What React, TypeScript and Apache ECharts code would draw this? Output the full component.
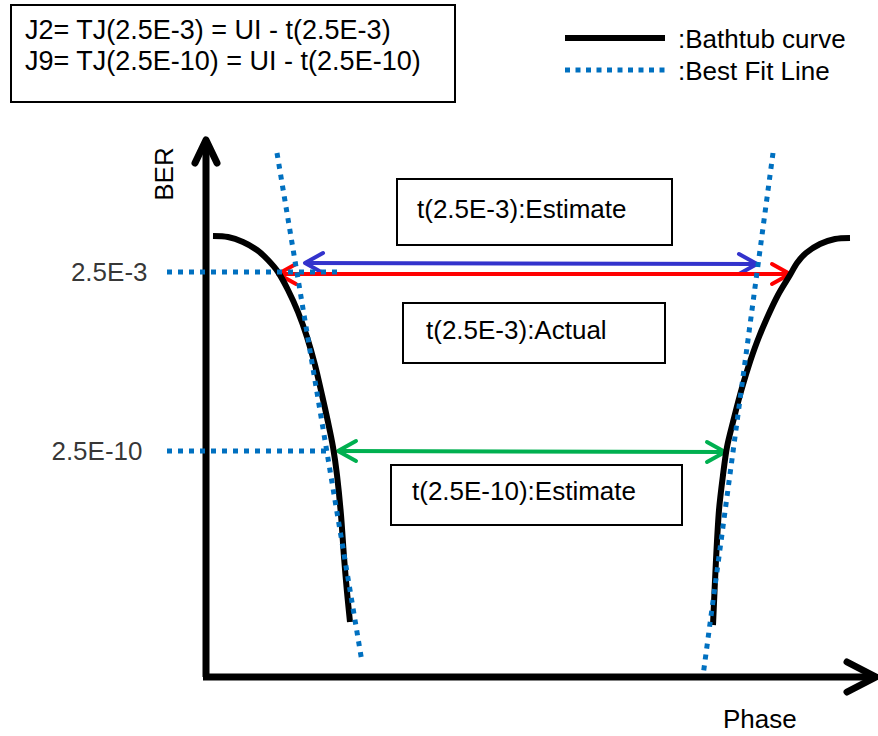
import React, { useEffect, useRef } from "react";
import * as echarts from "echarts";

// Coordinate space: x = phase units from the axis corner, y = BER level units above the phase axis
const xRange = [-206, 672];
const yRange = [-59, 677];

// Axes (drawn as polylines with open arrowheads)
const phaseAxis = [[-3, 0], [670, 0]];
const phaseArrowTip = [670, 0];
const berAxis = [[0, 0], [0, 537]];
const berArrowTip = [0, 537];

// Bathtub curve (left and right halves)
const bathtubLeft = [
  [7, 441], [22, 440], [37, 435], [51, 427], [62, 417], [72, 405], [82, 387],
  [92, 365], [101, 340], [109, 312], [116, 282], [122, 255], [127, 230],
  [131, 202], [135, 162], [138, 120], [141, 85], [144, 55],
];
const bathtubRight = [
  [644, 439], [629, 438], [614, 433], [600, 424], [591, 414], [584, 402],
  [572, 382], [561, 359], [551, 335], [542, 309], [534, 282], [527, 255],
  [521, 230], [517, 202], [513, 167], [510, 117], [507, 52],
];

// Best fit lines
const bestFitLeft = [[71, 524], [156, 15]];
const bestFitRight = [[567, 524], [497, 1]];

// BER levels
const levelNames = ["2.5E-3", "2.5E-10"];
const levelValues = [405, 226];
const levelLineEnds = [131, 121];
const levelLineStart = -39;
const levelLabelX = [-58, -63];

// Arrows: [leftTip, rightTip]
const arrowEstimate3 = [[99, 414], [551, 413]];
const arrowActual3 = [[72, 403], [584, 403]];
const arrowEstimate10 = [[132, 226], [519, 225]];

const FONT = "'Liberation Sans', Arial, sans-serif";

function chevron(tip: number[], dir: number, len: number, half: number) {
  return [
    [tip[0] + dir * len, tip[1] + half],
    [tip[0], tip[1]],
    [tip[0] + dir * len, tip[1] - half],
  ];
}

function chevronUp(tip: number[], len: number, half: number) {
  return [
    [tip[0] - half, tip[1] - len],
    [tip[0], tip[1]],
    [tip[0] + half, tip[1] - len],
  ];
}

function lineSeries(data: number[][], color: string, width: number, extra: any = {}) {
  return {
    type: "line",
    data,
    showSymbol: false,
    symbol: "none",
    silent: true,
    lineStyle: { color, width, cap: "round", join: "round", ...(extra.lineStyle || {}) },
    smooth: extra.smooth || false,
    z: extra.z || 2,
  };
}

function arrowSeries(pts: number[][], color: string) {
  return [
    lineSeries(pts, color, 4, { lineStyle: { cap: "butt" } }),
    lineSeries(chevron(pts[0], 1, 18, 10), color, 4),
    lineSeries(chevron(pts[1], -1, 18, 10), color, 4),
  ];
}

export default function App() {
  const ref = useRef<HTMLDivElement>(null);
  useEffect(() => {
    if (!ref.current) return;
    document.body.style.margin = "0";
    const chart = echarts.init(ref.current, undefined, { renderer: "svg" });
    const dotted = { type: [5, 6], cap: "butt" };
    const series: any[] = [
      // axes
      lineSeries(berAxis, "#000", 7, { lineStyle: { cap: "butt" } }),
      lineSeries(phaseAxis, "#000", 7, { lineStyle: { cap: "butt" } }),
      lineSeries(chevronUp(berArrowTip, 23, 11), "#000", 7),
      lineSeries(chevron(phaseArrowTip, -1, 29, 15), "#000", 7),
      // arrows
      ...arrowSeries(arrowEstimate3, "#3333CC"),
      ...arrowSeries(arrowActual3, "#FF0000"),
      ...arrowSeries(arrowEstimate10, "#00B050"),
      // bathtub
      lineSeries(bathtubLeft, "#000", 6, { smooth: 0.3, lineStyle: { cap: "butt" }, z: 3 }),
      lineSeries(bathtubRight, "#000", 6, { smooth: 0.3, lineStyle: { cap: "butt" }, z: 3 }),
      // best fit
      lineSeries(bestFitLeft, "#0070C0", 5, { lineStyle: dotted, z: 4 }),
      lineSeries(bestFitRight, "#0070C0", 5, { lineStyle: dotted, z: 4 }),
      // level lines
      ...levelValues.map((v, i) =>
        lineSeries([[levelLineStart, v], [levelLineEnds[i], v]], "#0070C0", 5, { lineStyle: { type: [5, 6], cap: "butt" }, z: 4 })
      ),
      // level labels
      {
        type: "scatter",
        symbolSize: 1,
        itemStyle: { color: "rgba(0,0,0,0)" },
        silent: true,
        data: levelValues.map((v, i) => [levelLabelX[i], v, levelNames[i]]),
        label: {
          show: true,
          position: "left",
          distance: 0,
          formatter: (p: any) => p.value[2],
          color: "#000",
          fontSize: 26,
          fontFamily: FONT,
        },
      },
    ];

    const txt = (text: string, x: number, y: number, extra: any = {}) => ({
      type: "text",
      x,
      y,
      silent: true,
      ...extra,
      style: { text, fill: "#000", font: `26px ${FONT}`, verticalAlign: "middle", align: "left", ...(extra.style || {}) },
    });
    const box = (x: number, y: number, w: number, h: number) => ({
      type: "rect",
      silent: true,
      shape: { x, y, width: w, height: h },
      style: { fill: "#fff", stroke: "#000", lineWidth: 2 },
      z: 10,
    });

    const graphic: any[] = [
      { ...box(11, 5, 444, 97) },
      { ...txt("J2= TJ(2.5E-3) = UI - t(2.5E-3)", 25, 30, { style: { font: `27px ${FONT}` } }), z: 11 },
      { ...txt("J9= TJ(2.5E-10) = UI - t(2.5E-10)", 25, 61, { style: { font: `27px ${FONT}` } }), z: 11 },
      { type: "line", silent: true, shape: { x1: 565, y1: 38, x2: 665, y2: 38 }, style: { stroke: "#000", lineWidth: 6 } },
      { type: "line", silent: true, shape: { x1: 565, y1: 70, x2: 665, y2: 70 }, style: { stroke: "#0070C0", lineWidth: 5, lineDash: [5, 5.5] } },
      txt(":Bathtub curve", 678, 39),
      txt(":Best Fit Line", 678, 71),
      box(397, 179, 275, 66),
      { ...txt("t(2.5E-3):Estimate", 417, 209), z: 11 },
      box(403, 303, 262, 60),
      { ...txt("t(2.5E-3):Actual", 426, 330), z: 11 },
      box(391, 465, 291, 60),
      { ...txt("t(2.5E-10):Estimate", 412, 491), z: 11 },
      txt("BER", 164, 174, { rotation: Math.PI / 2, style: { align: "center" } }),
      txt("Phase", 723, 719),
    ];

    chart.setOption({
      animation: false,
      backgroundColor: "#fff",
      grid: { left: 0, right: 0, top: 0, bottom: 0 },
      xAxis: { type: "value", min: xRange[0], max: xRange[1], show: false },
      yAxis: { type: "value", min: yRange[0], max: yRange[1], show: false },
      series,
      graphic,
    });
    return () => chart.dispose();
  }, []);
  return <div ref={ref} style={{ position: "fixed", left: 0, top: 0, width: 878, height: 736 }} />;
}
